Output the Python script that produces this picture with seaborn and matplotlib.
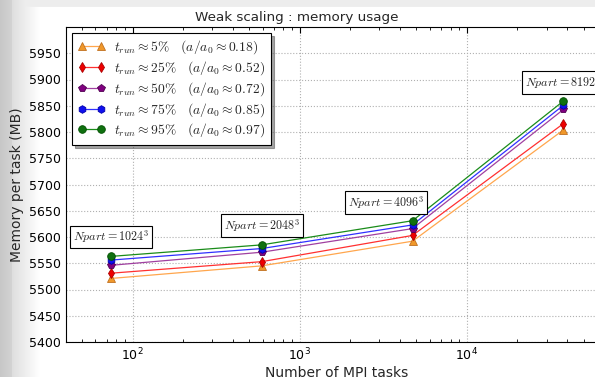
import numpy as np
import pandas as pd
import matplotlib
matplotlib.use("Agg")
import matplotlib.pyplot as plt
import seaborn as sns

# Weak scaling runs: number of MPI tasks per problem size
mpi_tasks = [74, 592, 4736, 37888]
npart_labels = [r"$Npart=1024^3$", r"$Npart=2048^3$", r"$Npart=4096^3$", r"$Npart=8192^3$"]
label_x = [74, 592, 3290, 37888]
label_y = [5600, 5622, 5665, 5895]

# memory per task (MB) for each run-time fraction
mem_5 = [5521, 5545, 5592, 5804]
mem_25 = [5531, 5553, 5603, 5816]
mem_50 = [5546, 5571, 5616, 5843]
mem_75 = [5556, 5578, 5623, 5851]
mem_95 = [5563, 5585, 5631, 5859]

series_labels = [
    r"$t_{run}\approx 5\%\ \ \ (a/a_0\approx 0.18)$",
    r"$t_{run}\approx 25\%\ \ \ (a/a_0\approx 0.52)$",
    r"$t_{run}\approx 50\%\ \ \ (a/a_0\approx 0.72)$",
    r"$t_{run}\approx 75\%\ \ \ (a/a_0\approx 0.85)$",
    r"$t_{run}\approx 95\%\ \ \ (a/a_0\approx 0.97)$",
]
y_ticks = list(range(5400, 6000, 50))

sns.set_style("white")
plt.rcParams["mathtext.fontset"] = "cm"
plt.rcParams["font.family"] = ["DejaVu Sans"]

# (line colour, marker, marker face, marker edge)
styles = [
    ("#ffa64d", "^", "#f0982a", "#c07020"),
    ("#ff3030", "d", "#ee0000", "#aa0000"),
    ("#a040a0", "p", "#800080", "#500050"),
    ("#3030ff", "h", "#1010ee", "#0000aa"),
    ("#1a8c1a", "o", "#107010", "#005000"),
]

df = pd.DataFrame({"tasks": mpi_tasks, "m5": mem_5, "m25": mem_25,
                   "m50": mem_50, "m75": mem_75, "m95": mem_95})

fig = plt.figure(figsize=(5.95, 3.77), dpi=100, facecolor="white")

# screenshot-like grey margin on the left and top
bg = fig.add_axes([0, 0, 1, 1], zorder=-10)
grad = np.ones((377, 595))
xs = np.arange(595)
left = np.clip((xs - 12) / 28.0, 0, 1)
row = np.where(xs < 12, 0.78 + xs * 0.004, 0.87 + 0.13 * left)
grad[:] = row
grad[:7, :] = np.minimum(grad[:7, :], 0.93)
bg.imshow(grad, cmap="gray", vmin=0, vmax=1, aspect="auto")
bg.axis("off")

ax = fig.add_axes([66 / 595, 35 / 377, 542 / 595, 315 / 377])
ax.set_facecolor("white")

cols = ["m5", "m25", "m50", "m75", "m95"]
for col, lab, (lc, mk, mfc, mec) in zip(cols, series_labels, styles):
    sns.lineplot(data=df, x="tasks", y=col, ax=ax, color=lc, linewidth=0.9,
                 marker=mk, markersize=5.5, markerfacecolor=mfc, markeredgecolor=mec,
                 markeredgewidth=0.6, label=lab)

ax.set_xscale("log")
ax.set_xlim(40, 7e4)
ax.set_ylim(5400, 6000)
ax.set_yticks(y_ticks)
ax.grid(True, which="major", color="#b0b0b0", linestyle=":", linewidth=0.8)
ax.tick_params(which="both", direction="in", top=True, right=True,
               labelsize=9, colors="black")
ax.tick_params(which="major", length=4)
ax.tick_params(which="minor", length=2, bottom=True, top=True)
for sp in ax.spines.values():
    sp.set_color("black")
    sp.set_linewidth(0.8)

for lx, ly, txt in zip(label_x, label_y, npart_labels):
    ax.text(lx, ly, txt, ha="center", va="center", fontsize=8.7,
            bbox=dict(boxstyle="square,pad=0.25", facecolor="white",
                      edgecolor="black", linewidth=0.8))

fig.text(297 / 595, 1 - 18 / 377, "Weak scaling : memory usage", fontsize=9.7,
         ha="center", va="center")
ax.set_xlabel("Number of MPI tasks", fontsize=10, labelpad=2)
ax.set_ylabel("Memory per task (MB)", fontsize=10)

leg = ax.legend(loc="upper left", fontsize=9.8, numpoints=2, shadow=True,
                fancybox=False, frameon=True, borderaxespad=0.45,
                handlelength=2.0, labelspacing=0.22, borderpad=0.4,
                handletextpad=0.7)
leg.get_frame().set_edgecolor("black")
leg.get_frame().set_linewidth(0.8)

fig.savefig("out.png", dpi=100, facecolor=fig.get_facecolor())
